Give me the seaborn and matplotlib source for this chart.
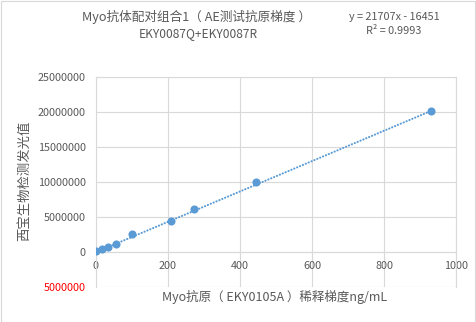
import matplotlib
matplotlib.use("Agg")
import matplotlib.pyplot as plt
from matplotlib.patches import Rectangle
from matplotlib.ticker import FuncFormatter, MultipleLocator
import numpy as np
import pandas as pd
import seaborn as sns

# Antigen dilution gradient (ng/mL) and measured luminescence
concentration = [0, 18, 34, 58, 100, 208, 272, 445, 929]
luminescence = [140000, 430000, 710000, 1190000, 2600000, 4500000, 6100000, 9960000, 20100000]

# Linear trendline as reported on the chart
slope = 21707
intercept = -16451
r_squared = 0.9993

title_line1 = "Myo抗体配对组合1（ AE测试抗原梯度 ）"
title_line2 = "EKY0087Q+EKY0087R"
x_label = "Myo抗原（ EKY0105A ）稀释梯度ng/mL"
y_label = "西宝生物检测发光值"

sns.set_theme(style="white")
plt.rcParams["font.family"] = ["Noto Sans CJK SC", "DejaVu Sans"]

TEXT = "#595959"
GRID = "#D9D9D9"
BLUE = "#5B9BD5"

df = pd.DataFrame({"conc": concentration, "lum": luminescence})
trend_x = np.array([min(concentration), max(concentration)], dtype=float)
trend = pd.DataFrame({"conc": trend_x, "lum": slope * trend_x + intercept})

fig = plt.figure(figsize=(4.76, 3.22), dpi=100)
ax = fig.add_axes([95.5 / 476, 1 - 287.3 / 322, 361 / 476, 210.3 / 322])

sns.lineplot(data=trend, x="conc", y="lum", ax=ax, color=BLUE, lw=1.5,
             linestyle=(0, (0.1, 1.4)), dash_capstyle="round", zorder=3)
sns.scatterplot(data=df, x="conc", y="lum", ax=ax, color=BLUE, s=34,
                edgecolor=BLUE, linewidth=0, zorder=4)

ax.set_xlim(0, 1000)
ax.set_ylim(-5000000, 25000000)
ax.xaxis.set_major_locator(MultipleLocator(200))
ax.yaxis.set_major_locator(MultipleLocator(5000000))
ax.yaxis.set_major_formatter(FuncFormatter(lambda v, p: f"{abs(int(round(v)))}"))

ax.grid(True, color=GRID, lw=0.8)
ax.set_axisbelow(True)
for side in ["left", "right", "top", "bottom"]:
    ax.spines[side].set_color(GRID)
    ax.spines[side].set_linewidth(0.8)
ax.spines["bottom"].set_position(("data", 0))

ax.tick_params(axis="both", length=0, labelsize=7.8, labelcolor=TEXT)
ax.tick_params(axis="y", pad=7)
ax.tick_params(axis="x", pad=6.5)
for lab in ax.get_yticklabels():
    if float(lab.get_position()[1]) < 0:
        lab.set_color("#FF0000")

ax.set_xlabel("")
ax.set_ylabel("")
fig.text(275 / 476, 1 - 297 / 322, x_label, ha="center", va="center",
         fontsize=9.0, color=TEXT)
fig.text(24 / 476, 1 - 181 / 322, y_label, ha="center", va="center",
         rotation=90, fontsize=9.6, color=TEXT)

fig.text(197 / 476, 1 - 17 / 322, title_line1, ha="center", va="center",
         fontsize=9.1, color=TEXT)
fig.text(198 / 476, 1 - 34 / 322, title_line2, ha="center", va="center",
         fontsize=8.6, color=TEXT)
fig.text(394 / 476, 1 - 17 / 322, f"y = {slope}x - {abs(intercept)}", ha="center",
         va="center", fontsize=7.8, color=TEXT)
fig.text(394 / 476, 1 - 31 / 322, f"R² = {r_squared}", ha="center",
         va="center", fontsize=7.8, color=TEXT)

fig.patches.append(Rectangle((0.5 / 476, 0.5 / 322), 474.5 / 476, 320.5 / 322,
                             transform=fig.transFigure, fill=False,
                             edgecolor=GRID, lw=0.8))

fig.savefig("out.png", dpi=100, facecolor="white")
